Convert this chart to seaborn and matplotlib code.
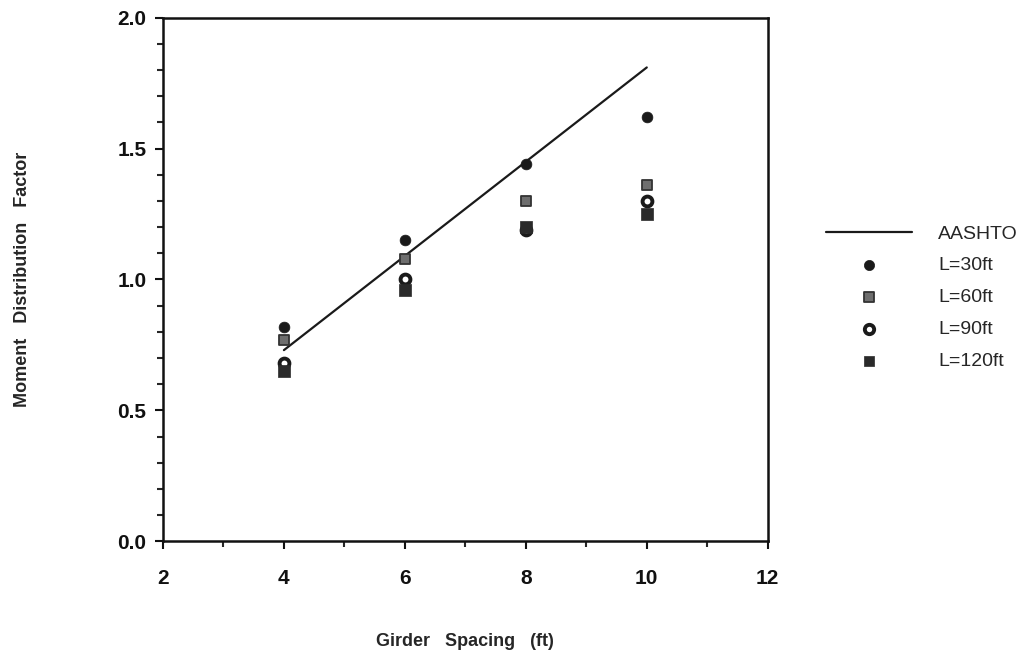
import matplotlib
matplotlib.use("Agg")
import matplotlib.pyplot as plt
import seaborn as sns
import pandas as pd
from matplotlib.ticker import MultipleLocator

sns.set_style("white")
plt.rcParams['font.family'] = ['Liberation Sans', 'DejaVu Sans']

# Data
spacing = [4, 6, 8, 10]
l30 = [0.82, 1.15, 1.44, 1.62]
l60 = [0.77, 1.08, 1.30, 1.36]
l90 = [0.68, 1.00, 1.19, 1.30]
l120 = [0.65, 0.96, 1.20, 1.25]
aashto_x = [4, 10]
aashto_y = [0.73, 1.81]

series = {"L=30ft": l30, "L=60ft": l60, "L=90ft": l90, "L=120ft": l120}
rows = []
for name, vals in series.items():
    for s, v in zip(spacing, vals):
        rows.append({"spacing": s, "mdf": v, "span": name})
df = pd.DataFrame(rows)
df_line = pd.DataFrame({"spacing": aashto_x, "mdf": aashto_y})

fig = plt.figure(figsize=(10.25, 6.56), dpi=100)
ax = fig.add_axes([0.159, 0.175, 0.590, 0.798])

sns.lineplot(data=df_line, x="spacing", y="mdf", color="#1a1a1a", lw=1.6,
             ax=ax, label="AASHTO")

styles = {
    "L=30ft": dict(marker="o", s=60, facecolor="#1a1a1a", edgecolor="#1a1a1a", linewidth=0.5),
    "L=60ft": dict(marker="s", s=60, facecolor="#6e6e6e", edgecolor="#333333", linewidth=1.3),
    "L=90ft": dict(marker="o", s=50, facecolor="white", edgecolor="#1a1a1a", linewidth=2.8),
    "L=120ft": dict(marker="s", s=65, facecolor="#2a2a2a", edgecolor="#2a2a2a", linewidth=0.5),
}
for name in series:
    sub = df[df["span"] == name]
    sns.scatterplot(data=sub, x="spacing", y="mdf", ax=ax, label=name, zorder=3,
                    **styles[name])

ax.set_xlim(2, 12)
ax.set_ylim(0, 2.0)
ax.xaxis.set_major_locator(MultipleLocator(2))
ax.xaxis.set_minor_locator(MultipleLocator(1))
ax.yaxis.set_major_locator(MultipleLocator(0.5))
ax.yaxis.set_minor_locator(MultipleLocator(0.1))
ax.yaxis.set_major_formatter(matplotlib.ticker.FormatStrFormatter('%.1f'))
ax.tick_params(axis='both', which='major', direction='out', length=6, width=1.5,
               labelsize=15, colors='#111111', bottom=True, left=True)
ax.tick_params(axis='both', which='minor', direction='out', length=4, width=1.5,
               bottom=True, left=True)
ax.tick_params(axis='x', pad=14)
ax.tick_params(axis='y', pad=6)
for lbl in ax.get_xticklabels() + ax.get_yticklabels():
    lbl.set_fontweight('semibold')
for sp in ax.spines.values():
    sp.set_color('#111111')
    sp.set_linewidth(1.8)

ax.set_xlabel("Girder   Spacing   (ft)", fontsize=13, fontweight='bold')
ax.set_ylabel("Moment   Distribution   Factor", fontsize=13, fontweight='bold')
ax.xaxis.set_label_coords(0.5, -0.175)
ax.yaxis.set_label_coords(-0.218, 0.5)

leg = ax.legend(loc='upper left', bbox_to_anchor=(0.806, 0.657),
                bbox_transform=fig.transFigure, frameon=False, borderpad=0,
                borderaxespad=0, fontsize=14, handlelength=4.4,
                labelspacing=0.73, handletextpad=1.35, markerscale=0.95)

fig.savefig("out.png", dpi=100)
